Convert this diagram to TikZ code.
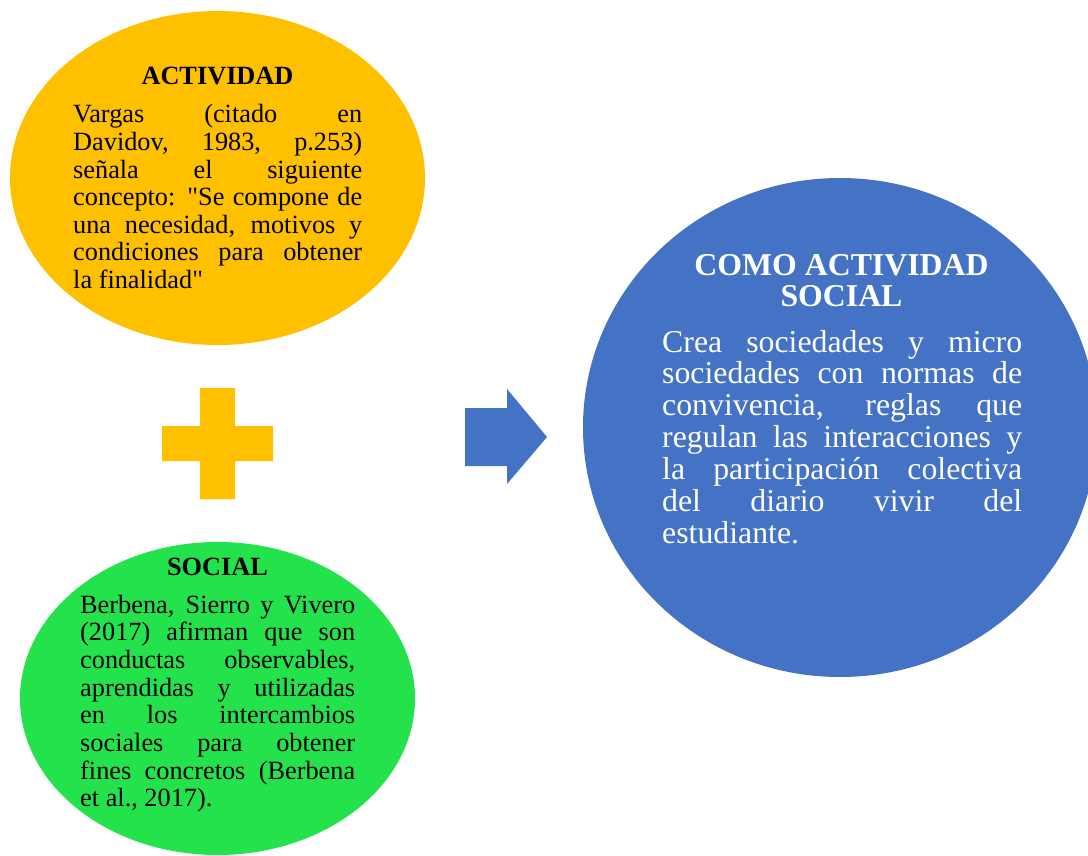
\documentclass[tikz,border=0pt]{standalone}
\usepackage{fontspec}
\setmainfont{Liberation Serif}[Ligatures=TeXOff]
\usetikzlibrary{shapes.geometric}
\definecolor{cyellow}{HTML}{FFC000}
\definecolor{cgreen}{RGB}{35,226,76}
\definecolor{cblue}{HTML}{4472C4}
\newcommand\jline[1]{\makebox[\linewidth][s]{#1}\par}
\tikzset{
  blob/.style={ellipse, inner sep=0pt, draw=none},
  txt/.style={inner sep=0pt, anchor=base west},
  ttl/.style={inner sep=0pt, anchor=base, font=\fontsize{26.3pt}{27.6pt}\selectfont\bfseries},
}
\begin{document}
\begin{tikzpicture}[x=1pt,y=-1pt]
\useasboundingbox (0,0) rectangle (1088,856);
\clip (0,0) rectangle (1088,856);
\fill[white] (0,0) rectangle (1088,856);
% shapes
\node[blob, fill=cyellow, minimum width=415pt, minimum height=334pt] (act) at (217.5,178) {};
\node[blob, fill=cgreen, minimum width=395pt, minimum height=313pt] (soc) at (217.5,698.5) {};
\node[blob, fill=cblue, minimum width=514pt, minimum height=499pt] (com) at (840,427.5) {};
\fill[cyellow] (162,426) -- (200,426) -- (200,388) -- (235,388) -- (235,426) -- (273,426)
  -- (273,461) -- (235,461) -- (235,499) -- (200,499) -- (200,461) -- (162,461) -- cycle;
\fill[cblue] (465,408) -- (507,408) -- (507,389) -- (547,437) -- (507,484) -- (507,466) -- (465,466) -- cycle;
% yellow text
\node[ttl] (actT) at (217.5,85) {ACTIVIDAD};
\node[txt] (actB) at (73,123) {\parbox[t]{289pt}{\fontsize{26.3pt}{27.6pt}\selectfont\parindent=0pt
\jline{Vargas (citado en}
\jline{Davidov, 1983, p.253)}
\jline{señala el siguiente}
\jline{concepto: "Se compone de}
\jline{una necesidad, motivos y}
\jline{condiciones para obtener}
la finalidad"}};
% green text
\node[ttl] (socT) at (217.5,575) {SOCIAL};
\node[txt] (socB) at (80,613) {\parbox[t]{275pt}{\fontsize{26.3pt}{27.7pt}\selectfont\parindent=0pt
\jline{Berbena, Sierro y Vivero}
\jline{(2017) afirman que son}
\jline{conductas observables,}
\jline{aprendidas y utilizadas}
\jline{en los intercambios}
\jline{sociales para obtener}
\jline{fines concretos (Berbena}
et al., 2017).}};
% blue text
\node[inner sep=0pt, anchor=base, text=white] (comT) at (841.5,275) {\parbox[t]{340pt}{\centering\fontsize{31.8pt}{32pt}\selectfont\bfseries COMO ACTIVIDAD\\SOCIAL}};
\node[txt, text=white] (comB) at (662,352) {\parbox[t]{360pt}{\fontsize{31.8pt}{31.9pt}\selectfont\parindent=0pt
\jline{Crea sociedades y micro}
\jline{sociedades con normas de}
\jline{convivencia, reglas que}
\jline{regulan las interacciones y}
\jline{la participación colectiva}
\jline{del diario vivir del}
estudiante.}};
\end{tikzpicture}
\end{document}
